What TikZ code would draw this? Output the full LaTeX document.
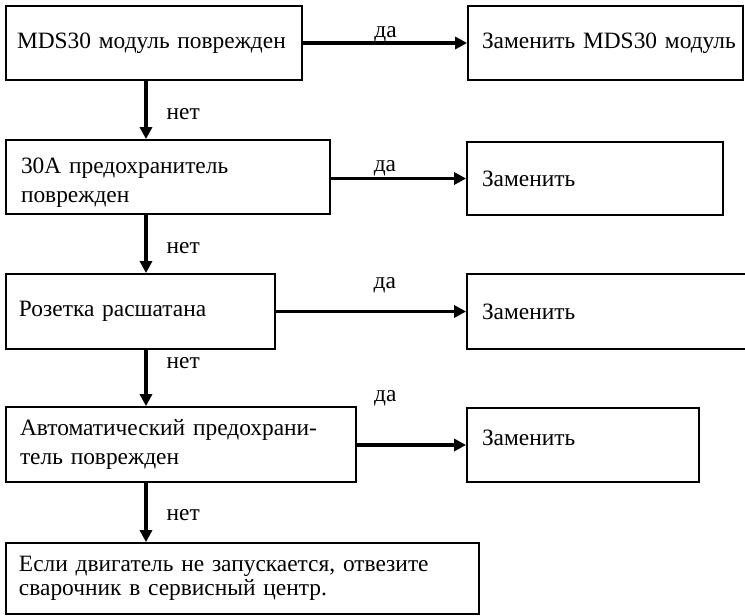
\documentclass[tikz,border=0pt]{standalone}
\usepackage{fontspec}
\setmainfont{Liberation Serif}
\usetikzlibrary{arrows.meta}
\begin{document}
\begin{tikzpicture}[x=1pt,y=-1pt,
  box/.style={draw, line width=1.8pt, rectangle, align=left, inner ysep=0pt, font=\fontsize{23.4}{29.5}\selectfont},
  arr/.style={line width=3.2pt, -{Triangle[length=12pt,width=12pt]}},
  lab/.style={font=\fontsize{23.4}{26}\selectfont, inner sep=0pt},
  nolab/.style={lab, anchor=west, xshift=19pt, yshift=-2.5pt},
]
\useasboundingbox (0,0) rectangle (745,616);
\clip (0,0) rectangle (745,616);
\coordinate (col) at (146,0);

\node[box, minimum width=296pt, minimum height=74pt, inner xsep=11pt, text width=274pt] (b1) at (154,43) {\mbox{MDS30 модуль поврежден}};
\node[box, minimum width=275pt, minimum height=74pt, inner xsep=14pt, text width=247pt] (b2) at (605.5,43) {\mbox{Заменить MDS30 модуль}};
\node[box, minimum width=324pt, minimum height=74pt, inner xsep=15pt, text width=294pt] (b3) at (168,177) {\mbox{\rule{0pt}{27pt}30А предохранитель}\\\mbox{поврежден}};
\node[box, minimum width=256pt, minimum height=73pt, inner xsep=15pt, text width=226pt] (b4) at (595,178.5) {\mbox{Заменить}};
\node[box, minimum width=269pt, minimum height=75pt, inner xsep=13pt, text width=243pt] (b5) at (140.5,311.5) {\mbox{Розетка расшатана}};
\node[box, minimum width=303pt, minimum height=75pt, inner xsep=15pt, text width=273pt] (b6) at (618.5,311.5) {\mbox{Заменить}};
\node[box, minimum width=350pt, minimum height=75pt, inner xsep=14pt, text width=322pt, font=\fontsize{23.4}{28.5}\selectfont] (b7) at (181,444.5) {\mbox{Автоматический предохрани-}\\\mbox{тель поврежден}};
\node[box, minimum width=232pt, minimum height=74pt, inner xsep=15pt, text width=202pt] (b8) at (583,445) {\mbox{Заменить\rule[-15pt]{0pt}{15pt}}};
\node[box, minimum width=473pt, minimum height=71pt, inner xsep=13pt, text width=447pt, font=\fontsize{23.4}{23.5}\selectfont] (b9) at (242.5,578.5) {\mbox{Если двигатель не запускается, отвезите}\\\mbox{сварочник в сервисный центр.}};

\draw[arr] (b1.east) -- node[lab, pos=0.503, yshift=9pt] {да} (b2.west);
\draw[arr] (b4.west -| b3.east) -- node[lab, pos=0.40, yshift=10pt] {да} (b4.west);
\draw[arr] (b5.east) -- node[lab, pos=0.573, yshift=26pt] {да} (b6.west);
\draw[arr] (b8.west -| b7.east) -- node[lab, pos=0.26, yshift=46.5pt] {да} (b8.west);

\draw[arr] (b1.south -| col) -- node[nolab, pos=0.53] {нет} (b3.north -| col);
\draw[arr] (b3.south -| col) -- node[nolab, pos=0.52] {нет} (b5.north -| col);
\draw[arr] (b5.south -| col) -- node[nolab, pos=0.19] {нет} (b7.north -| col);
\draw[arr] (b7.south -| col) -- node[nolab, pos=0.51] {нет} (b9.north -| col);
\end{tikzpicture}
\end{document}
